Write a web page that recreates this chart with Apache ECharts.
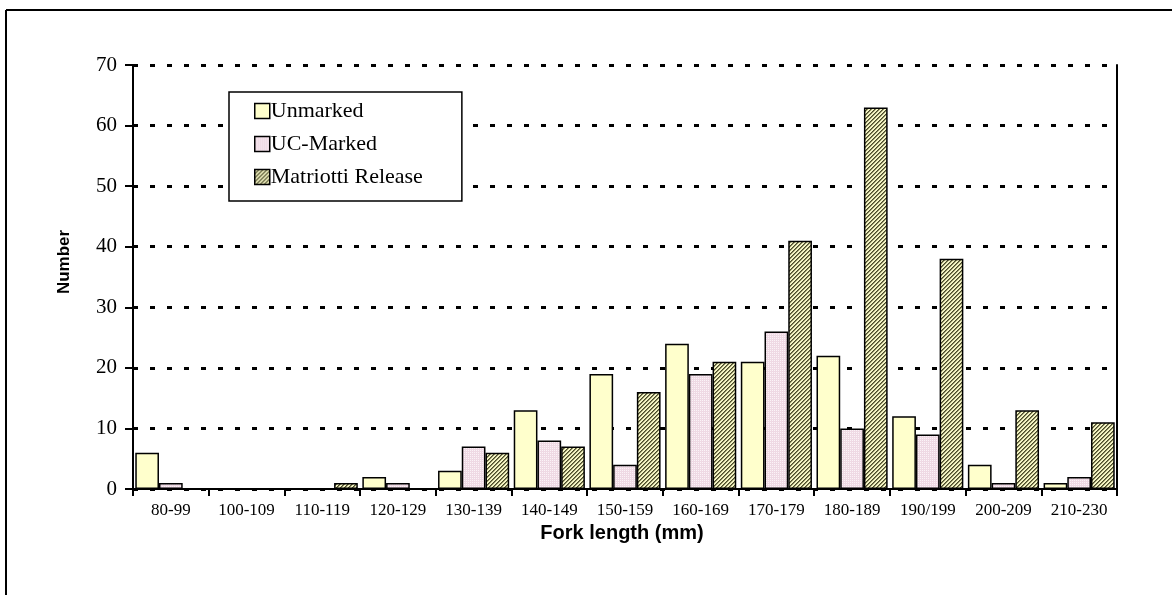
<!DOCTYPE html>
<html>
<head>
<meta charset="utf-8">
<script src="https://cdn.jsdelivr.net/npm/echarts@6/dist/echarts.min.js"></script>
<style>
html,body{margin:0;padding:0;background:#fff;}
#chart{width:1172px;height:595px;}
</style>
</head>
<body>
<div id="chart"></div>
<script>
var categories = ['80-99','100-109','110-119','120-129','130-139','140-149','150-159','160-169','170-179','180-189','190/199','200-209','210-230'];
var unmarked = [6,0,0,2,3,13,19,24,21,22,12,4,1];
var ucMarked = [1,0,0,1,7,8,4,19,26,10,9,1,2];
var matriotti = [0,0,1,0,6,7,16,21,41,63,38,13,11];
var yTicks = [0,10,20,30,40,50,60,70];

function makePattern(kind){
  var c = document.createElement('canvas');
  c.width = 4; c.height = 4;
  var g = c.getContext('2d');
  if (kind === 'dots') {
    g.fillStyle = '#EFD9E4'; g.fillRect(0,0,4,4);
    g.fillStyle = '#FBF3F7';
    g.fillRect(0,0,1,1); g.fillRect(2,2,1,1);
    g.fillRect(2,0,1,1); g.fillRect(0,2,1,1);
  } else {
    g.fillStyle = '#F4F4C4'; g.fillRect(0,0,4,4);
    g.fillStyle = '#4A4A2C';
    for (var i = 0; i < 4; i++) { g.fillRect(i, 3 - i, 1, 1); }
    g.fillStyle = '#8A8A5C';
    for (var j = 0; j < 4; j++) { g.fillRect((j + 1) % 4, 3 - j, 1, 1); }
  }
  return {image: c, repeat: 'repeat'};
}

var chart = echarts.init(document.getElementById('chart'), null, {renderer: 'canvas'});
var barBorder = {borderColor: '#000', borderWidth: 1.5};
var option = {
  animation: false,
  backgroundColor: '#fff',
  grid: {left: 133, right: 55, top: 65, bottom: 106, containLabel: false},
  legend: {
    orient: 'vertical',
    left: 229, top: 92,
    padding: [8, 39, 13, 25],
    itemGap: 11,
    itemWidth: 15, itemHeight: 15,
    backgroundColor: '#fff',
    borderColor: '#000', borderWidth: 1.5,
    icon: 'rect',
    itemStyle: {borderColor: '#000', borderWidth: 1.5},
    textStyle: {fontFamily: 'Liberation Serif', fontSize: 22, color: '#000', padding: [0,0,0,-4]},
    data: ['Unmarked','UC-Marked','Matriotti Release']
  },
  xAxis: {
    type: 'category',
    data: categories,
    axisLine: {lineStyle: {color: '#000', width: 2}},
    axisTick: {show: true, length: 7, interval: 0, lineStyle: {color: '#000', width: 2}},
    axisLabel: {interval: 0, margin: 13, fontFamily: 'Liberation Serif', fontSize: 17, color: '#000'},
    name: 'Fork length (mm)',
    nameLocation: 'middle',
    nameGap: 27,
    nameTextStyle: {fontFamily: 'Liberation Sans', fontWeight: 'bold', fontSize: 20, color: '#000', padding: [0, 6, 0, 0]}
  },
  yAxis: [{
    type: 'value',
    min: yTicks[0], max: yTicks[yTicks.length - 1], interval: 10,
    axisLine: {show: true, lineStyle: {color: '#000', width: 2}},
    axisTick: {show: true, length: 8, lineStyle: {color: '#000', width: 2}},
    axisLabel: {margin: 16, fontFamily: 'Liberation Serif', fontSize: 21, color: '#000'},
    splitLine: {show: true, lineStyle: {color: '#000', width: 3, type: [5, 12]}},
    name: 'Number',
    nameLocation: 'middle',
    nameGap: 60,
    nameRotate: 90,
    nameTextStyle: {fontFamily: 'Liberation Sans', fontWeight: 'bold', fontSize: 17, color: '#000', padding: [0, 0, 0, 30]}
  }, {
    type: 'value',
    position: 'right',
    min: yTicks[0], max: yTicks[yTicks.length - 1], interval: 10,
    axisLine: {show: true, lineStyle: {color: '#000', width: 2}},
    axisTick: {show: false},
    axisLabel: {show: false},
    splitLine: {show: false}
  }],
  series: [
    {name: 'Unmarked', type: 'bar', data: unmarked, barGap: '0%', barCategoryGap: '6%',
     itemStyle: Object.assign({color: '#FFFFCC'}, barBorder)},
    {name: 'UC-Marked', type: 'bar', data: ucMarked, barGap: '0%', barCategoryGap: '6%',
     itemStyle: Object.assign({color: makePattern('dots')}, barBorder)},
    {name: 'Matriotti Release', type: 'bar', data: matriotti, barGap: '0%', barCategoryGap: '6%',
     itemStyle: Object.assign({color: makePattern('hatch')}, barBorder)}
  ],
  graphic: [
    {type: 'line', shape: {x1: 6, y1: 10, x2: 6, y2: 595}, style: {stroke: '#000', lineWidth: 2}},
    {type: 'line', shape: {x1: 6, y1: 10, x2: 1172, y2: 10}, style: {stroke: '#000', lineWidth: 2}}
  ]
};
chart.setOption(option);
</script>
</body>
</html>
